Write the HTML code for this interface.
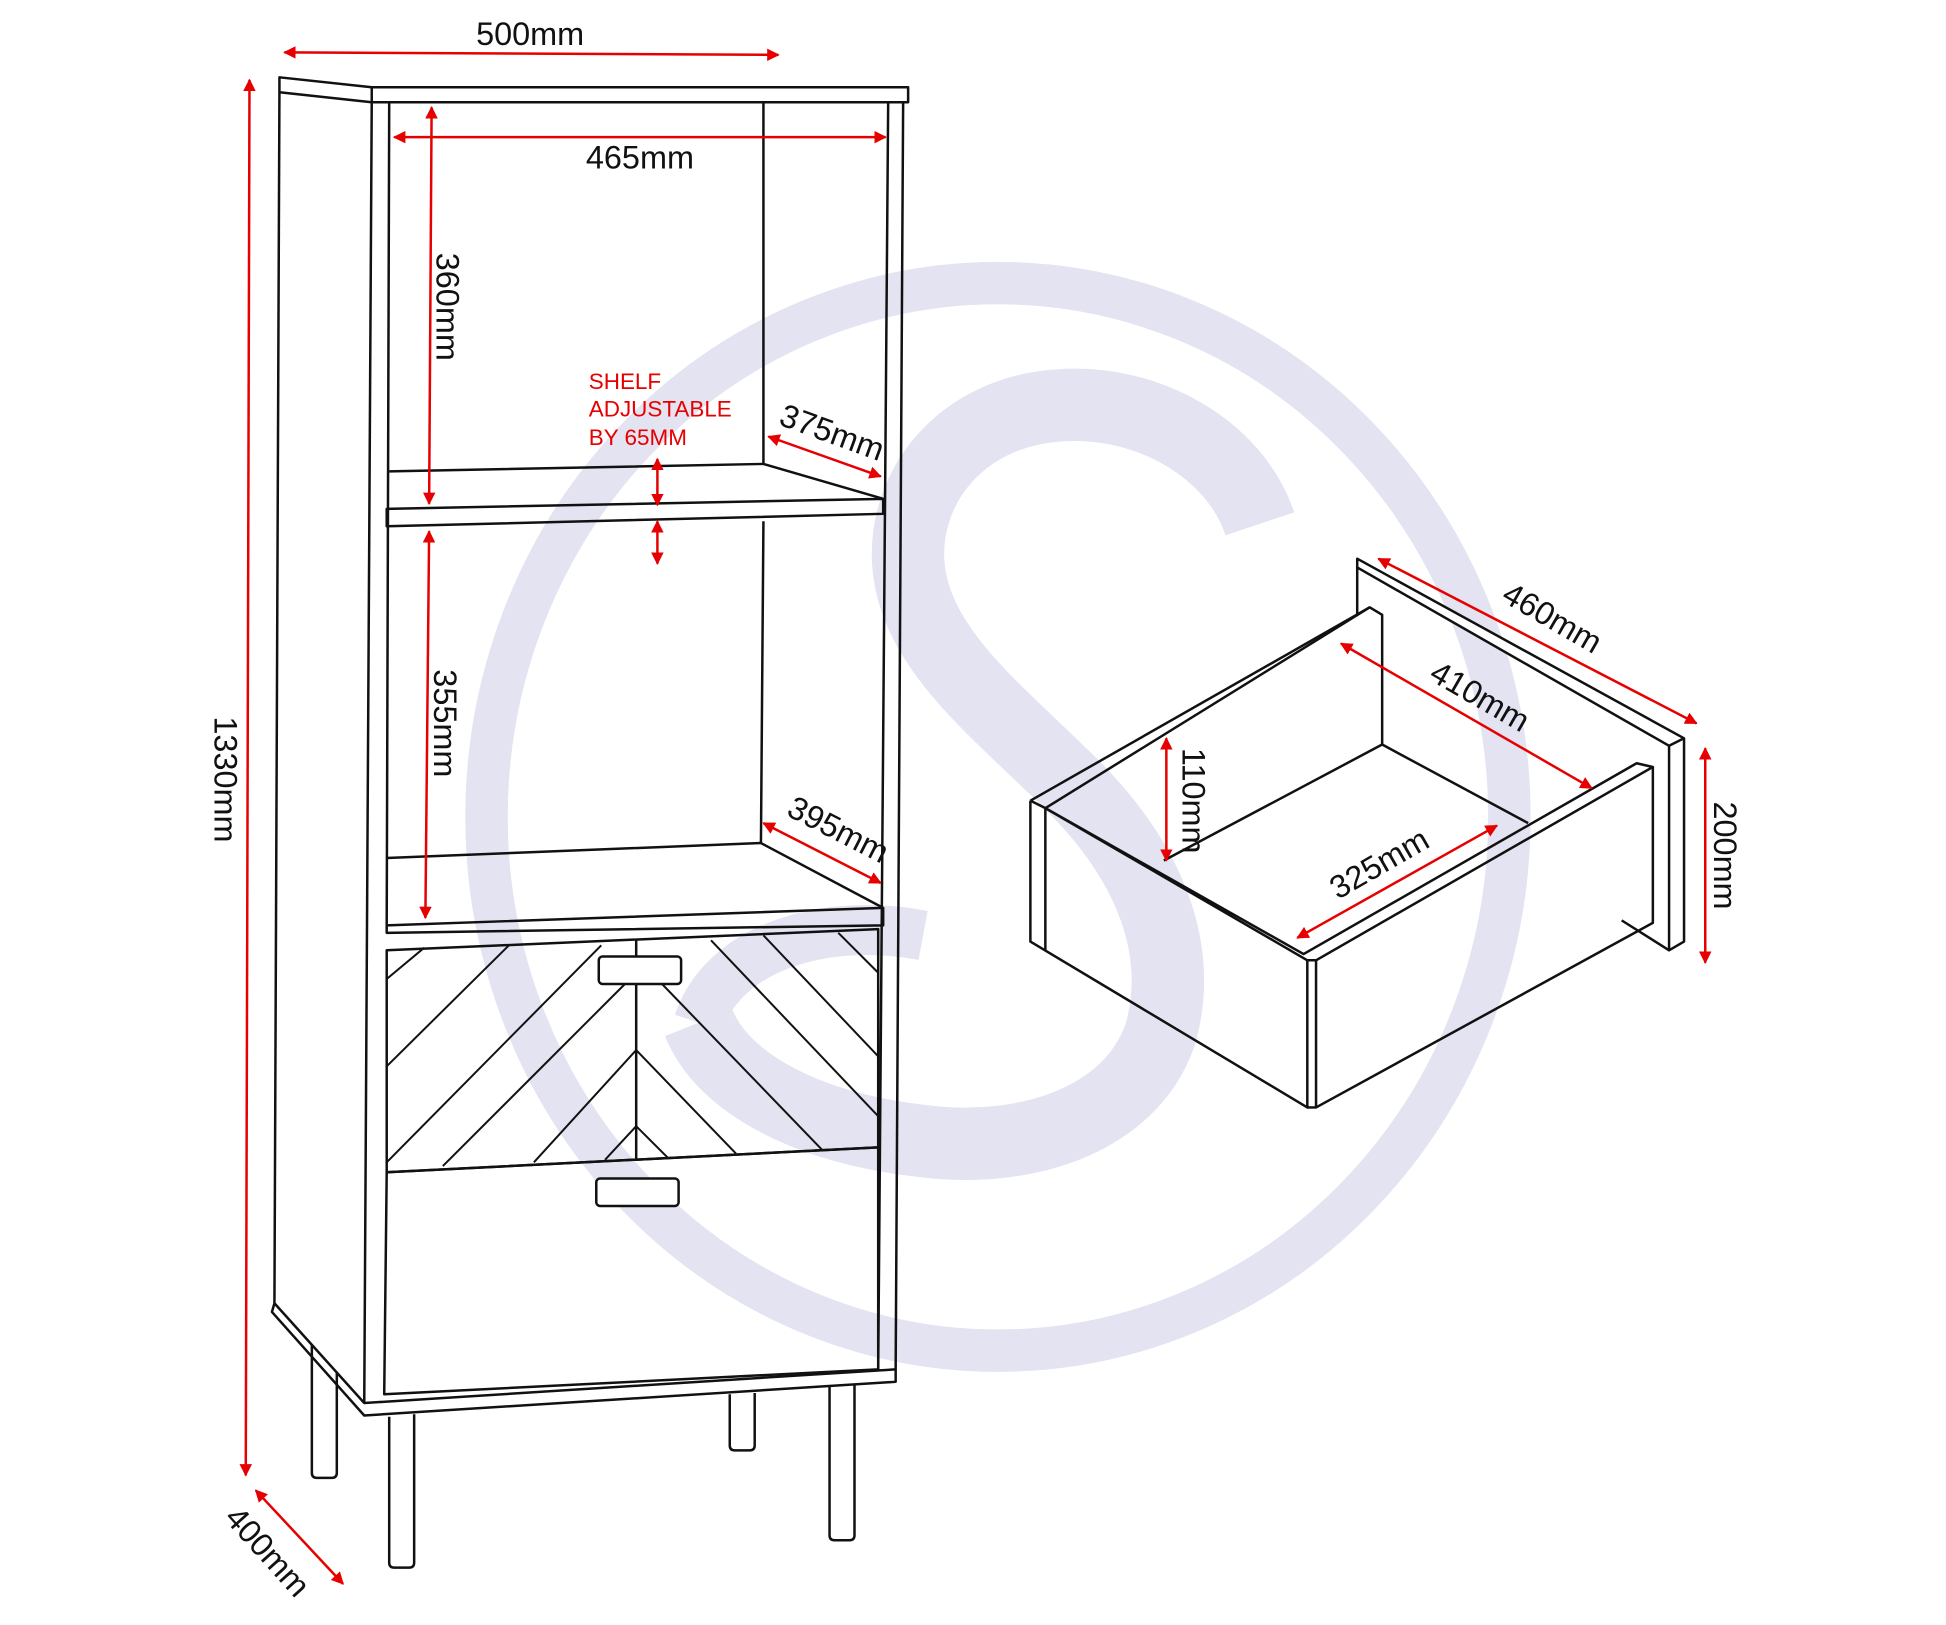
<!DOCTYPE html>
<html><head><meta charset="utf-8"><style>
html,body{margin:0;padding:0;background:#fff}
svg{display:block}
text{font-family:"Liberation Sans",Arial,sans-serif}
</style></head><body>
<svg width="1946" height="1625" viewBox="0 0 1560 1303" preserveAspectRatio="none" xmlns="http://www.w3.org/2000/svg">
<defs>
<marker id="a" viewBox="0 0 10 10" refX="9" refY="5" markerWidth="5" markerHeight="5" orient="auto-start-reverse"><path d="M0,0 L10,5 L0,10 z" fill="#e60000"/></marker>
</defs>
<!-- watermark -->
<g fill="none" stroke="#e3e3f1">
<ellipse cx="800" cy="655" rx="410" ry="428" stroke-width="34"/>
<path d="M1010,420 C990,360 920,320 850,325 C770,330 725,390 728,450 C732,520 800,570 860,630 C920,690 950,760 930,830 C905,900 820,925 740,915 C650,905 580,870 560,820" stroke-width="58"/>
<path d="M560,820 C580,760 660,735 740,750" stroke-width="40"/>
</g>
<g fill="none" stroke="#111" stroke-width="2" stroke-linejoin="round">
<!-- top -->
<path d="M224,62 L298,70 L728,70 L728,82 L298,82 L224,74 Z"/>
<line x1="298" y1="70" x2="298" y2="82"/>
<!-- left side -->
<line x1="224" y1="74" x2="220" y2="1045"/>
<line x1="298" y1="82" x2="292" y2="1125"/>
<path d="M220,1045 L218,1052 L292,1135 L718,1108 L718,1098 L292,1125 L220,1045"/>
<!-- right side -->
<line x1="712" y1="82" x2="704" y2="1098"/>
<line x1="724" y1="82" x2="718" y2="1098"/>
<!-- inner left -->
<line x1="312" y1="82" x2="310" y2="742"/>
<line x1="612" y1="82" x2="612" y2="372"/>
<line x1="612" y1="418" x2="610" y2="676"/>
<!-- upper shelf -->
<path d="M312,378 L612,372 L708,400 L708,412 L310,422 L310,408 L708,400"/>
<!-- lower shelf -->
<path d="M310,688 L610,676 L708,728 L708,742 L310,748 L310,742 L708,728"/>
<!-- drawer 1 -->
<path d="M310,762 L704,745 L704,920 L310,940 Z"/>
<line x1="510" y1="754" x2="510" y2="930"/>
<g stroke-width="1.6">
<line x1="310" y1="785" x2="340" y2="760"/>
<line x1="310" y1="855" x2="408" y2="758"/>
<line x1="310" y1="932" x2="482" y2="758"/>
<line x1="355" y1="935" x2="505" y2="785"/>
<line x1="428" y1="932" x2="510" y2="842"/>
<line x1="485" y1="930" x2="510" y2="903"/>
<line x1="510" y1="842" x2="590" y2="925"/>
<line x1="510" y1="903" x2="535" y2="928"/>
<line x1="522" y1="780" x2="660" y2="923"/>
<line x1="570" y1="754" x2="704" y2="895"/>
<line x1="612" y1="750" x2="704" y2="847"/>
<line x1="672" y1="748" x2="704" y2="780"/>
</g>
<rect x="480" y="767" width="66" height="22" rx="3" fill="#fff"/>
<!-- drawer 2 -->
<path d="M310,940 L704,920 L704,1098 L308,1118 Z"/>
<rect x="478" y="945" width="66" height="22" rx="3" fill="#fff"/>
<!-- legs -->
<path d="M250,1078 L250,1181 Q250,1185 254,1185 L266,1185 Q270,1185 270,1181 L270,1100"/>
<path d="M312,1136 L312,1253 Q312,1257 316,1257 L328,1257 Q332,1257 332,1253 L332,1134"/>
<path d="M585,1118 L585,1159 Q585,1163 589,1163 L601,1163 Q605,1163 605,1159 L605,1117"/>
<path d="M665,1111 L665,1231 Q665,1235 669,1235 L681,1235 Q685,1235 685,1231 L685,1110"/>
<!-- drawer right -->
<path d="M1088,448 L1350,592 L1350,755 L1338,762 L1338,598 L1088,455 Z" fill="#fff"/>
<line x1="1088" y1="455" x2="1088" y2="494"/>
<line x1="1338" y1="598" x2="1350" y2="592"/>
<line x1="1300" y1="738" x2="1338" y2="762"/>
<path d="M838,648 L1098,487 L1108,493 L1108,597"/>
<path d="M826,642 L1098,487"/>
<path d="M826,642 L838,648 L1048,770 L1055,770 L1325,615 L1312,612 L1045,765 L838,648"/>
<path d="M826,642 L826,755 L1048,888 L1048,770"/>
<line x1="838" y1="648" x2="838" y2="762"/>
<path d="M1055,770 L1055,888 L1325,740 L1325,615"/>
<line x1="1048" y1="888" x2="1055" y2="888"/>
<path d="M933,690 L1108,597 L1225,660"/>
</g>
<!-- dimension lines -->
<g stroke="#e60000" stroke-width="2" marker-start="url(#a)" marker-end="url(#a)">
<line x1="228" y1="42" x2="624" y2="44"/>
<line x1="316" y1="110" x2="710" y2="110"/>
<line x1="346" y1="86" x2="344" y2="404"/>
<line x1="344" y1="426" x2="341" y2="736"/>
<line x1="200" y1="64" x2="197" y2="1183"/>
<line x1="205" y1="1195" x2="275" y2="1270"/>
<line x1="616" y1="350" x2="706" y2="382"/>
<line x1="612" y1="660" x2="706" y2="708"/>
<line x1="527" y1="368" x2="527" y2="405"/>
<line x1="527" y1="418" x2="527" y2="452"/>
<line x1="1105" y1="448" x2="1360" y2="580"/>
<line x1="1075" y1="516" x2="1276" y2="632"/>
<line x1="935" y1="592" x2="935" y2="690"/>
<line x1="1040" y1="752" x2="1200" y2="662"/>
<line x1="1367" y1="600" x2="1367" y2="772"/>
</g>
<!-- labels -->
<g font-size="26" fill="#111">
<text x="425" y="36" text-anchor="middle">500mm</text>
<text x="513" y="135" text-anchor="middle">465mm</text>
<text transform="translate(350,246) rotate(90)" text-anchor="middle">360mm</text>
<text transform="translate(348,580) rotate(90)" text-anchor="middle">355mm</text>
<text transform="translate(172,625) rotate(90)" text-anchor="middle">1330mm</text>
<text transform="translate(208,1250) rotate(48)" text-anchor="middle">400mm</text>
<text transform="translate(664,355) rotate(20)" text-anchor="middle">375mm</text>
<text transform="translate(668,673) rotate(27)" text-anchor="middle">395mm</text>
<text transform="translate(1240,503) rotate(30)" text-anchor="middle">460mm</text>
<text transform="translate(1182,566) rotate(30)" text-anchor="middle">410mm</text>
<text transform="translate(948,642) rotate(90)" text-anchor="middle">110mm</text>
<text transform="translate(1110,700) rotate(-30)" text-anchor="middle">325mm</text>
<text transform="translate(1374,686) rotate(90)" text-anchor="middle">200mm</text>
</g>
<g font-size="18" fill="#e60000">
<text x="472" y="312">SHELF</text>
<text x="472" y="334">ADJUSTABLE</text>
<text x="472" y="357">BY 65MM</text>
</g>
</svg>
</body></html>
